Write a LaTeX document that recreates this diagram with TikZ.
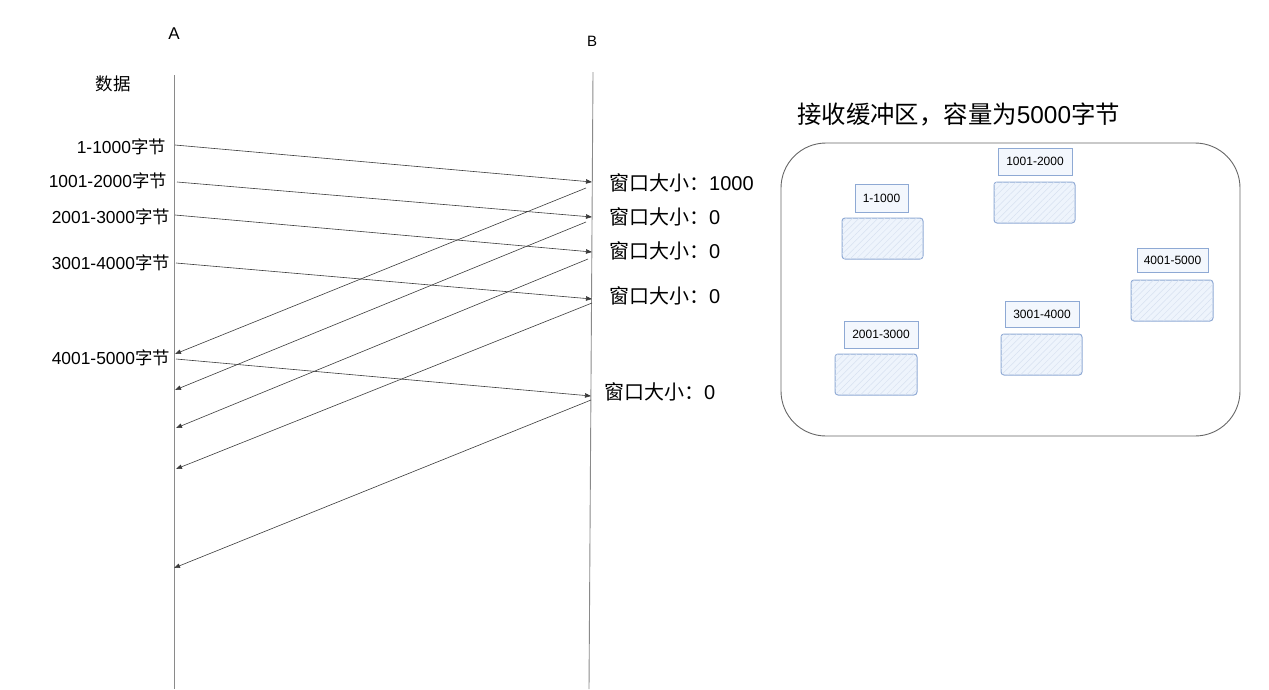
\documentclass[tikz,border=0pt]{standalone}
\usepackage{fontspec}
\setmainfont{Liberation Sans}
\newfontfamily\cjk{Noto Sans CJK SC}
\usetikzlibrary{arrows.meta,patterns.meta}
\definecolor{lineg}{HTML}{3A3A3A}
\definecolor{lifeg}{HTML}{8A8A8A}
\definecolor{boxg}{HTML}{666666}
\definecolor{bstroke}{HTML}{8EA9D4}
\definecolor{bfill}{HTML}{EEF4FC}
\newcommand\zh[1]{{\cjk #1}}
\begin{document}
\begin{tikzpicture}[x=1pt,y=-1pt,
  lbl/.style={inner sep=0pt,anchor=east,font=\fontsize{17.4}{20}\selectfont},
  win/.style={inner sep=0pt,anchor=west,font=\fontsize{20}{24}\selectfont},
  msg/.style={draw=lineg,line width=0.6pt,-{Triangle[length=6pt,width=4.5pt]}},
  life/.style={draw=lifeg,line width=0.9pt},
  buf/.style={draw=bstroke,line width=1pt,fill=bfill,rounded corners=3pt,minimum width=81pt,minimum height=41pt,inner sep=0pt,
    postaction={pattern={Lines[angle=45,distance=4.5pt,line width=0.5pt]},pattern color=bstroke!35}},
  tag/.style={draw=bstroke,line width=1pt,fill=bfill!70,inner sep=0pt,minimum height=26pt,font=\fontsize{12}{14}\selectfont}]
\useasboundingbox (0,0) rectangle (1269,689);
% lifelines
\coordinate (Atop) at (174,75);
\coordinate (Abot) at (174,689);
\coordinate (Btop) at (593,72);
\coordinate (Bbot) at (589,689);
\draw[life] (Atop) -- (Abot);
\draw[life] (Btop) -- (Bbot);
\node[inner sep=0pt,font=\fontsize{17}{20}\selectfont] (labA) at (174,34) {A};
\node[inner sep=0pt,font=\fontsize{15}{18}\selectfont] (labB) at (592,41) {B};
\node[inner sep=0pt,font=\fontsize{17.5}{20}\selectfont] (data) at (113,84) {\zh{数据}};
% data labels
\node[lbl] (d1) at (166,147) {1-1000\zh{字节}};
\node[lbl] (d2) at (167,181) {1001-2000\zh{字节}};
\node[lbl] (d3) at (170,217) {2001-3000\zh{字节}};
\node[lbl] (d4) at (170,263) {3001-4000\zh{字节}};
\node[lbl] (d5) at (170,358) {4001-5000\zh{字节}};
% window labels
\node[win] (w1) at (609,183) {\zh{窗口大小：}1000};
\node[win] (w2) at (609,217) {\zh{窗口大小：}0};
\node[win] (w3) at (609,251) {\zh{窗口大小：}0};
\node[win] (w4) at (609,296) {\zh{窗口大小：}0};
\node[win] (w5) at (604,392) {\zh{窗口大小：}0};
% forward message points
\coordinate (f1s) at (175,145); \coordinate (f1e) at (592,182);
\coordinate (f2s) at (177,182); \coordinate (f2e) at (592,217);
\coordinate (f3s) at (175,215); \coordinate (f3e) at (592,252);
\coordinate (f4s) at (176,263); \coordinate (f4e) at (592,299);
\coordinate (f5s) at (176,359); \coordinate (f5e) at (591,396);
% back message points
\coordinate (b1s) at (586,188); \coordinate (b1e) at (175,354);
\coordinate (b2s) at (586,222); \coordinate (b2e) at (175,390);
\coordinate (b3s) at (588,259); \coordinate (b3e) at (176,428);
\coordinate (b4s) at (592,303); \coordinate (b4e) at (176,469);
\coordinate (b5s) at (591,400); \coordinate (b5e) at (174,568);
\foreach \i in {1,...,5}{
  \draw[msg] (f\i s) -- (f\i e);
  \draw[msg] (b\i s) -- (b\i e);
}
% receive buffer
\node[inner sep=0pt,anchor=west,font=\fontsize{24.4}{28}\selectfont] (title) at (797,114) {\zh{接收缓冲区，容量为}5000\zh{字节}};
\node[draw=boxg,line width=0.9pt,rounded corners=45pt,minimum width=459pt,minimum height=293pt,inner sep=0pt] (buffer) at (1010.5,289.5) {};
\node[buf] (s1) at (882.5,238.5) {};
\node[tag,minimum width=53pt,minimum height=28pt] (t1) at (881.5,198) {1-1000};
\node[buf] (s2) at (1034.5,202.5) {};
\node[tag,minimum width=74pt,minimum height=27pt] (t2) at (1035,161.5) {1001-2000};
\node[buf,minimum width=82pt] (s3) at (876,374.5) {};
\node[tag,minimum width=74pt,minimum height=27pt] (t3) at (881,334.5) {2001-3000};
\node[buf] (s4) at (1041.5,354.5) {};
\node[tag,minimum width=74pt] (t4) at (1042,314) {3001-4000};
\node[buf,minimum width=82pt] (s5) at (1172,300.5) {};
\node[tag,minimum width=71pt,minimum height=24pt] (t5) at (1172.5,260) {4001-5000};
\end{tikzpicture}
\end{document}
